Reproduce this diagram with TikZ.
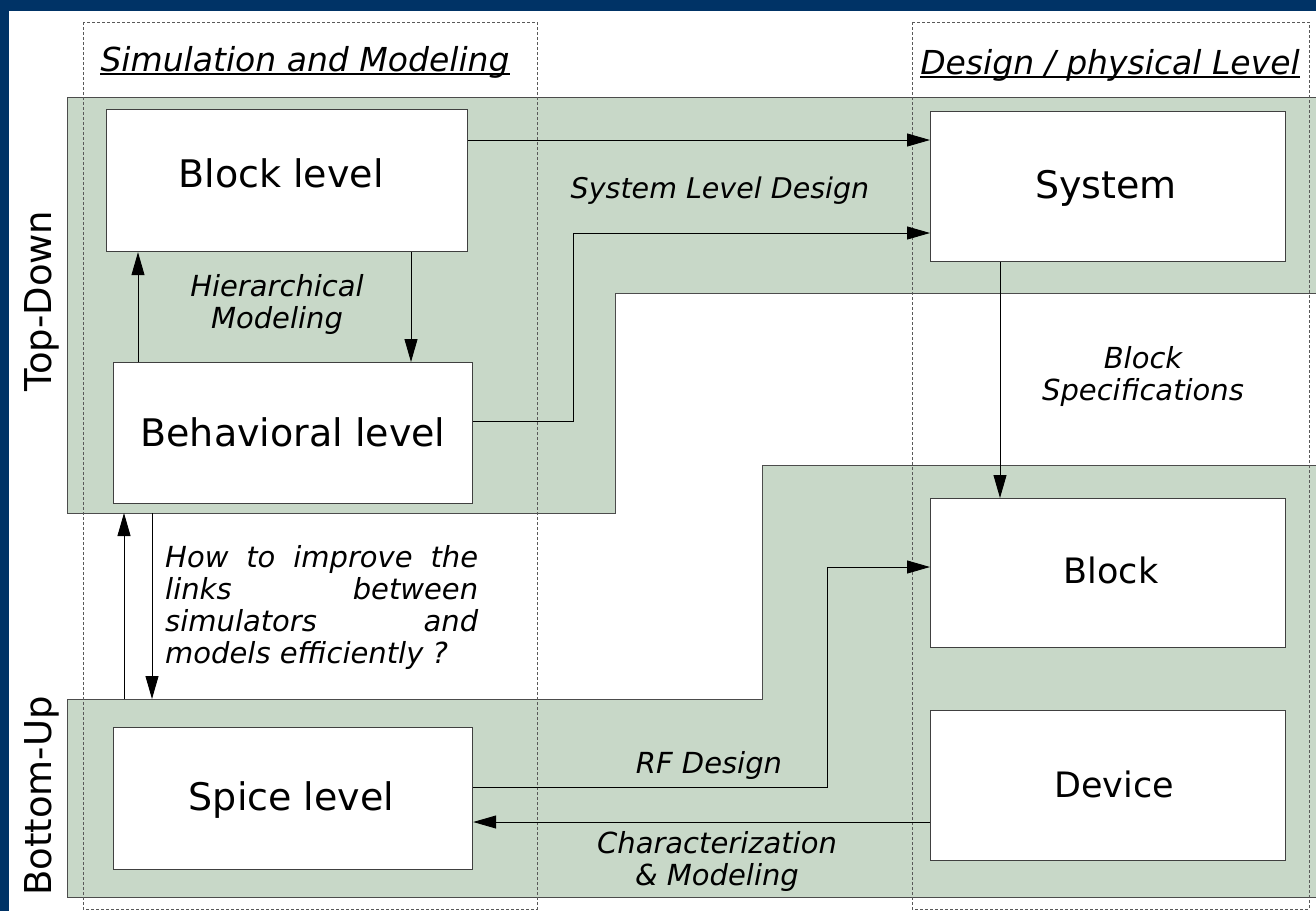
\documentclass[tikz,border=0pt]{standalone}
\usepackage{fontspec}
\setmainfont{DejaVu Sans}
\usetikzlibrary{arrows.meta}
\definecolor{slideblue}{RGB}{0,51,102}
\definecolor{zonegreen}{RGB}{200,216,200}
\begin{document}
\begin{tikzpicture}[x=1pt,y=-1pt,
  box/.style={draw=black!75, line width=1.2pt, fill=white, inner sep=0pt, anchor=north west},
  zone/.style={fill=zonegreen, draw=black!70, line width=0.9pt},
  column/.style={draw=black!65, line width=0.8pt, dash pattern=on 3pt off 2pt},
  link/.style={draw=black, line width=0.9pt, -{Triangle[length=23pt,width=13pt]}},
  boxlabel/.style={font=\fontsize{38}{44}\selectfont, inner sep=0pt, anchor=base},
  smalllabel/.style={font=\fontsize{35}{40}\selectfont, inner sep=0pt, anchor=base},
  note/.style={font=\itshape\fontsize{29}{32}\selectfont, align=center, inner sep=0pt},
  heading/.style={font=\itshape\fontsize{33}{38}\selectfont, inner sep=0pt, anchor=base},
  side/.style={font=\fontsize{37}{42}\selectfont, rotate=90, anchor=base, inner sep=0pt}
]
\useasboundingbox (0,0) rectangle (1316,911);
\fill[white] (0,0) rectangle (1316,911);
% slide frame
\fill[slideblue] (0,0) rectangle (1316,11);
\fill[slideblue] (0,0) rectangle (8.5,911);

% top-down and bottom-up zones
\path[zone] (67,97) -- (1322,97) -- (1322,293) -- (615,293) -- (615,513) -- (67,513) -- cycle;
\path[zone] (67,699) -- (762,699) -- (762,465) -- (1322,465) -- (1322,897) -- (67,897) -- cycle;

% the two dashed columns
\draw[column] (83,22) rectangle (537,909);
\draw[column] (912,22) rectangle (1309,909);

% column headings
\node[heading] (hsim) at (305,71) {Simulation and Modeling};
\draw[line width=1.8pt] ([yshift=-3pt]hsim.base west) -- ([yshift=-3pt]hsim.base east);
\node[heading] (hdes) at (1110,74) {Design / physical Level};
\draw[line width=1.8pt] ([yshift=-3pt]hdes.base west) -- ([yshift=-3pt]hdes.base east);

% side captions
\node[side] (td) at (51,301) {Top-Down};
\node[side] (bu) at (51,796) {Bottom-Up};

% boxes
\node[box, minimum width=361pt, minimum height=142pt] (blk) at (106,109) {};
\node[box, minimum width=359pt, minimum height=141pt] (beh) at (113,362) {};
\node[box, minimum width=359pt, minimum height=142pt] (spc) at (113,727) {};
\node[box, minimum width=355pt, minimum height=150pt] (sys) at (930,111) {};
\node[box, minimum width=355pt, minimum height=149pt] (blo) at (930,498) {};
\node[box, minimum width=355pt, minimum height=150pt] (dev) at (930,710) {};

\node[boxlabel] (tblk) at (281,187) {Block level};
\node[boxlabel] (tbeh) at (293,446) {Behavioral level};
\node[boxlabel] (tspc) at (291.5,810) {Spice level};
\node[boxlabel] (tsys) at (1106,198) {System};
\node[smalllabel] (tblo) at (1111,583) {Block};
\node[smalllabel] (tdev) at (1114,797) {Device};

% helper rows and columns for the connectors
\coordinate (rowA) at (0,140);
\coordinate (rowB) at (0,421);
\coordinate (jogB) at (573,233);
\coordinate (colH1) at (138,0);
\coordinate (colH2) at (411,0);
\coordinate (colS) at (1000,0);
\coordinate (tdedge) at (0,513);
\coordinate (buedge) at (0,699);
\coordinate (colU) at (124,0);
\coordinate (colD) at (152,0);
\coordinate (rowR) at (0,787);
\coordinate (jogR) at (827,567);
\coordinate (rowC) at (0,822);

% connectors
\draw[link] (blk.east |- rowA) -- (sys.west |- rowA);
\draw[link] (beh.east |- rowB) -| (jogB) -- (sys.west |- jogB);
\draw[link] (blk.south -| colH2) -- (beh.north -| colH2);
\draw[link] (beh.north -| colH1) -- (blk.south -| colH1);
\draw[link] (sys.south -| colS) -- (blo.north -| colS);
\draw[link] (colU |- buedge) -- (colU |- tdedge);
\draw[link] (colD |- tdedge) -- (colD |- buedge);
\draw[link] (spc.east |- rowR) -| (jogR) -- (blo.west |- jogR);
\draw[link] (dev.west |- rowC) -- (spc.east |- rowC);

% connector labels
\node[note, anchor=base, font=\itshape\fontsize{28.5}{32}\selectfont] (lsld) at (720,198) {System Level Design};
\node[note] (lhier) at (277,304) {Hierarchical\\Modeling};
\node[note] (lspec) at (1143,376) {Block\\Specifications};
\node[note, anchor=base] (lrf) at (709,773) {RF Design};
\node[note] (lchar) at (717,861) {Characterization\\\& Modeling};
\node[note, anchor=north west, align=left] (lq) at (165,545)
  {\makebox[313pt][s]{How to improve the}\\
   \makebox[313pt][s]{links between}\\
   \makebox[313pt][s]{simulators and}\\
   models efficiently ?};
\end{tikzpicture}
\end{document}
